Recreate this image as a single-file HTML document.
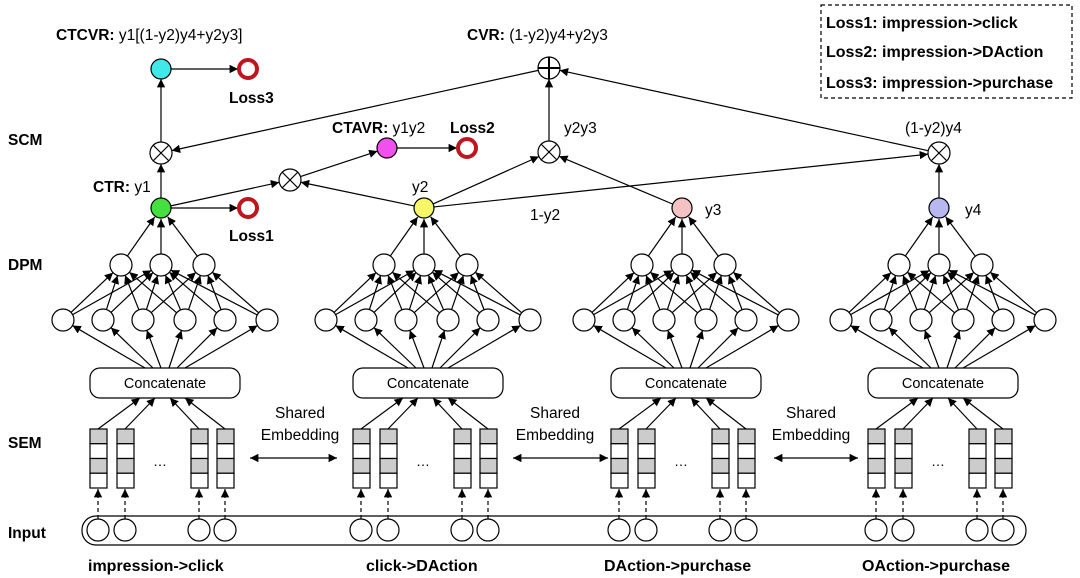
<!DOCTYPE html>
<html><head><meta charset="utf-8"><style>
body{margin:0;background:#fff;}
svg{display:block;font-family:"Liberation Sans",sans-serif;}
.b{font-weight:bold;}
</style></head><body>
<svg id="s" width="1080" height="578" viewBox="0 0 1080 578" xmlns="http://www.w3.org/2000/svg">
<defs><marker id="a" viewBox="0 0 10 10" refX="10" refY="5" markerWidth="7" markerHeight="7" orient="auto-start-reverse"><path d="M0,0L10,5L0,10z" fill="#000"/></marker></defs>
<g id="g" stroke="#000" stroke-width="1.2" fill="none"></g>
<g font-size="15.5" fill="#000">
<text x="8" y="270" class="b">DPM</text>
<text x="8" y="145" class="b">SCM</text>
<text x="8" y="448" class="b">SEM</text>
<text x="8" y="538" class="b">Input</text>
<text x="56" y="40"><tspan class="b">CTCVR:</tspan> y1[(1-y2)y4+y2y3]</text>
<text x="467" y="40"><tspan class="b">CVR:</tspan> (1-y2)y4+y2y3</text>
<text x="332" y="133"><tspan class="b">CTAVR:</tspan> y1y2</text>
<text x="450" y="133" class="b">Loss2</text>
<text x="93" y="192"><tspan class="b">CTR:</tspan> y1</text>
<text x="229" y="103" class="b">Loss3</text>
<text x="229" y="241" class="b">Loss1</text>
<text x="412" y="192">y2</text>
<text x="564" y="133">y2y3</text>
<text x="905" y="133">(1-y2)y4</text>
<text x="530" y="220">1-y2</text>
<text x="705" y="215">y3</text>
<text x="965" y="215">y4</text>
<g font-size="16">
<text x="88" y="571" class="b">impression-&gt;click</text>
<text x="366" y="571" class="b">click-&gt;DAction</text>
<text x="604" y="571" class="b">DAction-&gt;purchase</text>
<text x="862" y="571" class="b">OAction-&gt;purchase</text>
<text x="826" y="28" class="b">Loss1: impression-&gt;click</text>
<text x="826" y="57" class="b">Loss2: impression-&gt;DAction</text>
<text x="826" y="88" class="b">Loss3: impression-&gt;purchase</text>
</g>
<text x="300" y="418" text-anchor="middle">Shared</text>
<text x="300" y="440" text-anchor="middle">Embedding</text>
<text x="555" y="418" text-anchor="middle">Shared</text>
<text x="555" y="440" text-anchor="middle">Embedding</text>
<text x="811" y="418" text-anchor="middle">Shared</text>
<text x="811" y="440" text-anchor="middle">Embedding</text>
</g>
</svg>
<script>
const g=document.getElementById('g');const S=document.getElementById('s');
function el(t,a,p){const e=document.createElementNS('http://www.w3.org/2000/svg',t);for(const k in a)e.setAttribute(k,a[k]);(p||g).appendChild(e);return e;}
function arr(x1,y1,x2,y2,r1,r2,dash,both){const dx=x2-x1,dy=y2-y1,L=Math.hypot(dx,dy);const ux=dx/L,uy=dy/L;
 const a={x1:x1+ux*r1,y1:y1+uy*r1,x2:x2-ux*r2,y2:y2-uy*r2,'marker-end':'url(#a)'};if(dash)a['stroke-dasharray']='4,3';if(both)a['marker-start']='url(#a)';el('line',a);}
function circ(x,y,r,f,sw,st){el('circle',{cx:x,cy:y,r:r,fill:f||'#fff',stroke:st||'#000','stroke-width':sw||1.2});}
function times(x,y){circ(x,y,11);const d=7.5;el('line',{x1:x-d,y1:y-d,x2:x+d,y2:y+d});el('line',{x1:x+d,y1:y-d,x2:x-d,y2:y+d});}
function plus(x,y){circ(x,y,11);el('line',{x1:x-11,y1:y,x2:x+11,y2:y,'stroke-width':2});el('line',{x1:x,y1:y-11,x2:x,y2:y+11,'stroke-width':2});}
function ring(x,y){circ(x,y,9,'#fff',4,'#c0141e');}
el('rect',{x:821,y:5,width:251,height:93,'stroke-dasharray':'4,3'});
el('rect',{x:82,y:516,width:944,height:29,rx:14});
const T=[[161,'#44e040'],[424,'#f6f668'],[682,'#f4c2c2'],[939,'#b8b8f0']];
const offs=[0,263,521,778];
T.forEach(([ox,col],i)=>{const o=offs[i];
 const h2=[121,161,204].map(x=>x+o+(ox-161-o));
 const h1=[63,103,143,185,225,267].map(x=>x+o);
 const cx1=90+o,cx2=240+o,ccx=(cx1+cx2)/2;
 h2.forEach(x=>arr(x,265,ox,208,11,11));
 h1.forEach((x,j)=>{[0,1,2].forEach(k=>{const hx=h2[k];if(Math.abs(j/5*2-k)<=1.3)arr(x,320,hx,265,11,11);});
   arr(ccx-20+j*8,368,x,320,0,11);});
 h2.forEach(x=>circ(x,265,11));h1.forEach(x=>circ(x,320,11));
 circ(ox,208,10,col);
 el('rect',{x:cx1,y:368,width:150,height:30,rx:10});
 el('text',{x:ccx,y:388,'text-anchor':'middle','font-size':14.5,fill:'#000',stroke:'none'}).textContent='Concatenate';
 const cols=[90,117,191,217].map(x=>x+o);
 cols.forEach((x,j)=>{for(let c=0;c<4;c++)el('rect',{x:x,y:429+c*14.75,width:17,height:14.75,fill:c%2?'#fff':'#ccc'});
   arr(x+8,429,ccx-25+j*15,398,0,0);
   const ix=x+8;circ(ix,530,11);arr(ix,519,ix,489,0,0,true);});
 el('text',{x:160+o,y:466,'text-anchor':'middle','font-size':14,fill:'#000',stroke:'none'}).textContent='…';
 if(i<3)arr(250+o+ (i==2?3:0),458,337+o+(i==1?8:0),458,0,0,false,true);
});
arr(161,208,161,153,10,11);arr(161,153,161,69,11,10);arr(161,69,248,69,10,10);
arr(161,208,248,208,10,10);
arr(161,208,290,180,10,11);arr(424,208,290,180,10,11);arr(290,180,387,148,11,10);arr(387,148,467,148,10,10);
arr(424,208,549,152,10,11);arr(682,208,549,152,10,11);arr(549,152,549,68,11,11);
arr(424,208,939,153,10,11);arr(939,208,939,153,10,11);arr(939,153,549,68,11,11);
arr(549,68,161,153,11,11);
times(161,153);times(290,180);times(549,152);times(939,153);plus(549,68);
circ(161,69,10,'#40e8e8');circ(387,148,10,'#f050f0');
ring(248,69);ring(248,208);ring(467,148);
</script>
</body></html>
